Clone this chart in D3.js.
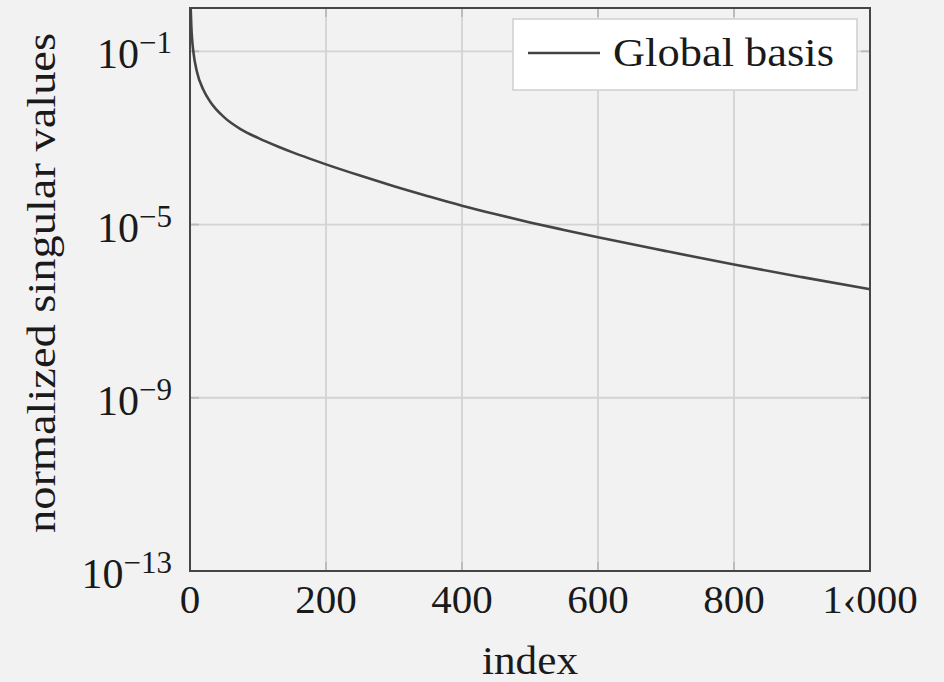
<!DOCTYPE html>
<html>
<head>
<meta charset="utf-8">
<script src="https://cdn.jsdelivr.net/npm/d3@7"></script>
<style>
  html, body { margin: 0; padding: 0; background: #f2f2f2; }
  svg { display: block; }
</style>
</head>
<body>
<svg id="chart" width="944" height="682"></svg>
<script>
// ---- data ----
const indices = [1, 2, 3, 5, 10, 20, 30, 50, 75, 100, 130, 150, 175, 200, 250, 300, 350, 400, 450, 500, 550, 600, 700, 800, 900, 1000];
const singularValues = [1, 0.363, 0.2, 0.0955, 0.0347, 0.0126, 0.00676, 0.00302, 0.00158, 0.001, 6.25e-4, 4.7e-4, 3.37e-4, 2.45e-4, 1.35e-4, 7.67e-5, 4.52e-5, 2.72e-5, 1.72e-5, 1.12e-5, 7.5e-6, 5.07e-6, 2.43e-6, 1.19e-6, 6.1e-7, 3.2e-7];
const xTicks = [0, 200, 400, 600, 800, 1000];
const xTickLabels = ["0", "200", "400", "600", "800", "1\u2039000"];
const yTickExponents = [-1, -5, -9, -13];
const seriesName = "Global basis";
const xLabel = "index";
const yLabel = "normalized singular values";

const fontFamily = "'Liberation Serif', 'DejaVu Serif', 'Noto Serif', serif";

// ---- layout ----
const svg = d3.select("#chart").attr("font-family", fontFamily);
const pLeft = 190, pRight = 870, pTop = 8, pBottom = 571;

const x = d3.scaleLinear().domain([0, 1000]).range([pLeft, pRight]);
const y = d3.scaleLog().domain([1e-13, 1]).range([pBottom, pTop]);

const gridColor = "#d3d3d3";
const tickColor = "#b9b9b9";
const frameColor = "#454545";
const textColor = "#1a1a1a";

// grid
const g = svg.append("g");
g.selectAll(".vgrid").data(xTicks.filter(d => d > 0 && d < 1000)).enter().append("line")
  .attr("x1", d => x(d)).attr("x2", d => x(d)).attr("y1", pTop).attr("y2", pBottom)
  .attr("stroke", gridColor).attr("stroke-width", 1.8);
g.selectAll(".hgrid").data(yTickExponents.filter(e => e > -13)).enter().append("line")
  .attr("x1", pLeft).attr("x2", pRight).attr("y1", d => y(Math.pow(10, d))).attr("y2", d => y(Math.pow(10, d)))
  .attr("stroke", gridColor).attr("stroke-width", 1.8);

// tick marks (inside)
const tl = 9;
xTicks.filter(d => d > 0 && d < 1000).forEach(d => {
  g.append("line").attr("x1", x(d)).attr("x2", x(d)).attr("y1", pBottom).attr("y2", pBottom - tl).attr("stroke", tickColor).attr("stroke-width", 1.8);
  g.append("line").attr("x1", x(d)).attr("x2", x(d)).attr("y1", pTop).attr("y2", pTop + tl).attr("stroke", tickColor).attr("stroke-width", 1.8);
});
yTickExponents.filter(e => e > -13).forEach(e => {
  const yy = y(Math.pow(10, e));
  g.append("line").attr("x1", pLeft).attr("x2", pLeft + tl).attr("y1", yy).attr("y2", yy).attr("stroke", tickColor).attr("stroke-width", 1.8);
  g.append("line").attr("x1", pRight).attr("x2", pRight - tl).attr("y1", yy).attr("y2", yy).attr("stroke", tickColor).attr("stroke-width", 1.8);
});

// curve
const pts = indices.map((d, i) => [d, singularValues[i]]);
const line = d3.line().x(d => x(d[0])).y(d => y(d[1])).curve(d3.curveMonotoneX);
svg.append("path").attr("d", line(pts)).attr("fill", "none")
  .attr("stroke", "#444").attr("stroke-width", 2.6);

// frame
svg.append("rect").attr("x", pLeft).attr("y", pTop).attr("width", pRight - pLeft).attr("height", pBottom - pTop)
  .attr("fill", "none").attr("stroke", frameColor).attr("stroke-width", 2);

// x tick labels
svg.selectAll(".xt").data(xTicks).enter().append("text")
  .attr("x", d => x(d)).attr("y", pBottom + 42)
  .attr("text-anchor", "middle").attr("font-size", 41).attr("fill", textColor)
  .text((d, i) => xTickLabels[i]);

// y tick labels
yTickExponents.forEach(e => {
  const yy = y(Math.pow(10, e));
  const t = svg.append("text").attr("x", pLeft - 18).attr("y", yy + 17)
    .attr("text-anchor", "end").attr("font-size", 42).attr("fill", textColor);
  t.append("tspan").text("10");
  t.append("tspan").attr("font-size", 31).attr("dy", -15).text("\u2212" + Math.abs(e));
});

// axis labels
svg.append("text").attr("x", (pLeft + pRight) / 2).attr("y", 674)
  .attr("text-anchor", "middle").attr("font-size", 41).attr("fill", textColor)
  .attr("textLength", 96).attr("lengthAdjust", "spacingAndGlyphs").text(xLabel);
svg.append("text").attr("transform", `translate(55, 283) rotate(-90)`)
  .attr("text-anchor", "middle").attr("font-size", 41).attr("fill", textColor)
  .attr("textLength", 500).attr("lengthAdjust", "spacingAndGlyphs").text(yLabel);

// legend
const lg = svg.append("g");
lg.append("rect").attr("x", 513).attr("y", 19).attr("width", 344).attr("height", 71)
  .attr("fill", "#ffffff").attr("stroke", "#cfcfcf").attr("stroke-width", 1.5);
lg.append("line").attr("x1", 528).attr("x2", 600).attr("y1", 53).attr("y2", 53)
  .attr("stroke", "#444").attr("stroke-width", 2.6);
lg.append("text").attr("x", 613).attr("y", 66).attr("font-size", 41).attr("fill", textColor)
  .attr("textLength", 221).attr("lengthAdjust", "spacingAndGlyphs").text(seriesName);
</script>
</body>
</html>
